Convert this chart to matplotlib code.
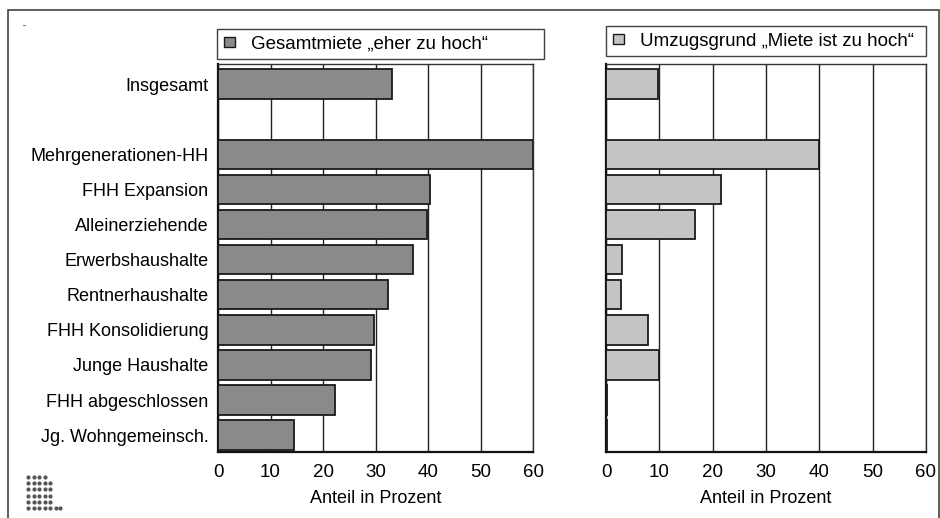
import matplotlib
matplotlib.use("Agg")
import matplotlib.pyplot as plt
from matplotlib.patches import Rectangle, Patch
from matplotlib.lines import Line2D
import numpy as np

plt.rcParams['font.family'] = ['Liberation Sans', 'DejaVu Sans']

# row labels, top to bottom ("" = empty spacer row)
labels = ["Insgesamt", "", "Mehrgenerationen-HH", "FHH Expansion", "Alleinerziehende",
          "Erwerbshaushalte", "Rentnerhaushalte", "FHH Konsolidierung",
          "Junge Haushalte", "FHH abgeschlossen", "Jg. Wohngemeinsch."]
miete_hoch = [33.1, None, 60.0, 40.4, 39.9, 37.1, 32.3, 29.7, 29.2, 22.3, 14.5]
umzug_miete = [9.8, None, 40.0, 21.6, 16.7, 3.0, 2.8, 7.9, 9.9, 0.15, 0.15]
legend_left = "Gesamtmiete \u201eeher zu hoch\u201c"
legend_right = "Umzugsgrund \u201eMiete ist zu hoch\u201c"
xticks = [0, 10, 20, 30, 40, 50, 60]
xlabel = "Anteil in Prozent"

W, H = 940, 518
fig = plt.figure(figsize=(W / 100, H / 100), dpi=100)

ypos = np.arange(len(labels))


def panel(rect, values, color, legend_text, anchor, show_ylabels):
    ax = fig.add_axes(rect)
    idx = [i for i, v in enumerate(values) if v is not None]
    vals = [values[i] for i in idx]
    ax.barh(ypos[idx], vals, height=0.84, color=color, edgecolor="#1a1a1a",
            linewidth=1.3, zorder=3)
    ax.set_xlim(0, 60)
    ax.set_ylim(10.47, -0.57)
    ax.set_xticks(xticks)
    ax.xaxis.grid(True, color="#222222", linewidth=1.0)
    ax.set_axisbelow(True)
    ax.tick_params(axis="both", length=0, colors="black")
    ax.tick_params(axis="x", pad=9, labelsize=13.5)
    ax.tick_params(axis="y", pad=7, labelsize=13)
    if show_ylabels:
        ax.set_yticks(ypos)
        ax.set_yticklabels(labels)
    else:
        ax.set_yticks([])
    ax.set_xlabel(xlabel, fontsize=13, labelpad=6)
    for s in ["top", "right"]:
        ax.spines[s].set_color("#333333")
        ax.spines[s].set_linewidth(1.0)
    for s in ["left", "bottom"]:
        ax.spines[s].set_color("#111111")
        ax.spines[s].set_linewidth(1.6)
    handle = Patch(facecolor=color, edgecolor="#1a1a1a", linewidth=1.0)
    leg = ax.legend([handle], [legend_text], loc="lower left",
                    bbox_to_anchor=anchor, mode="expand", borderaxespad=0,
                    fontsize=13.5, frameon=True, fancybox=False,
                    handlelength=0.6, handleheight=0.45, handletextpad=0.85,
                    borderpad=0.35)
    leg.get_frame().set_edgecolor("#111111")
    leg.get_frame().set_linewidth(1.0)
    return ax


panel([218 / W, (H - 451.7) / H, 315 / W, 387.7 / H], miete_hoch, "#8a8a8a",
      legend_left, (-0.003, 1.012, 1.038, 0.08), True)
panel([606 / W, (H - 451.7) / H, 320 / W, 387.7 / H], umzug_miete, "#c4c4c4",
      legend_right, (0.0, 1.02, 1.0, 0.08), False)

# outer frame
fig.add_artist(Rectangle((8 / W, -0.1), (939 - 8) / W, (H - 10) / H + 0.1,
                         transform=fig.transFigure, fill=False,
                         edgecolor="#444444", linewidth=1.2))
fig.add_artist(Line2D([23 / W, 25 / W], [1 - 25 / H, 1 - 25 / H],
                      transform=fig.transFigure, color="#888888", linewidth=0.8))

# small dot-matrix logo, bottom left
row_counts = [4, 5, 5, 5, 5, 6]
for r, n in enumerate(row_counts):
    xs = [(28 + 5.5 * c) / W for c in range(n)]
    ys = [1 - (477 + 6.2 * r) / H] * n
    fig.add_artist(Line2D(xs, ys, transform=fig.transFigure, linestyle="none",
                          marker="o", markersize=3.0, color="#555555",
                          markeredgewidth=0))
fig.add_artist(Line2D([60 / W], [1 - 508 / H], transform=fig.transFigure,
                      linestyle="none", marker="o", markersize=3.0,
                      color="#555555", markeredgewidth=0))

fig.savefig("out.png", dpi=100)
